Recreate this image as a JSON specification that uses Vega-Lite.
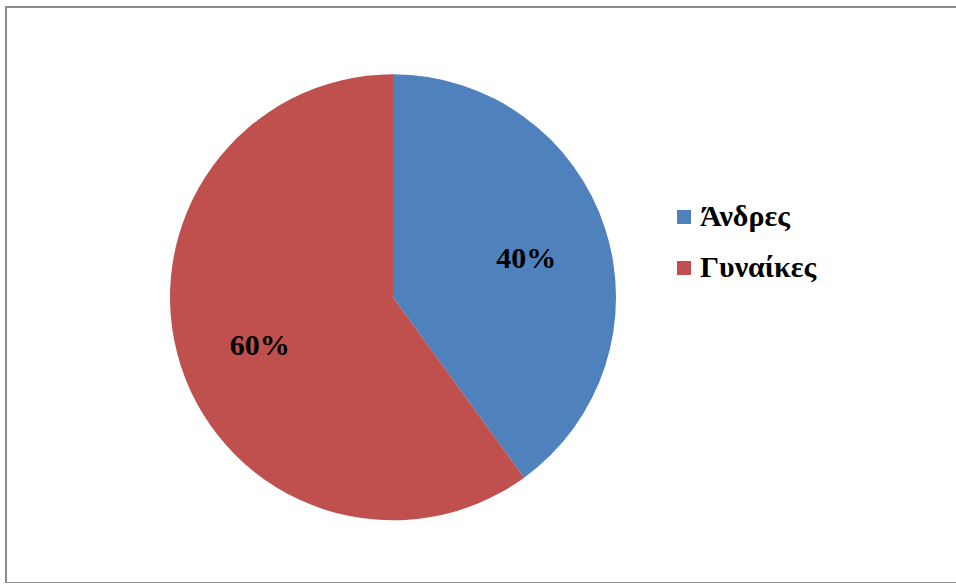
{
  "$schema": "https://vega.github.io/schema/vega-lite/v6.json",
  "width": 962,
  "height": 576,
  "autosize": {"type": "none"},
  "padding": {"left": 6, "top": 7, "right": 0, "bottom": 0},
  "background": "white",
  "config": {
    "view": {"stroke": "#8c8c8c", "strokeWidth": 2}
  },
  "data": {
    "values": [
      {"sex": "Άνδρες", "share": 0.4},
      {"sex": "Γυναίκες", "share": 0.6}
    ]
  },
  "encoding": {
    "theta": {"field": "share", "type": "quantitative", "stack": true},
    "order": {"field": "sex", "type": "ordinal", "sort": "ascending"},
    "x": {"datum": "pie", "type": "nominal", "scale": {"type": "point", "align": 0.4023}, "axis": null},
    "y": {"datum": "pie", "type": "nominal", "scale": {"type": "point", "align": 0.504}, "axis": null}
  },
  "layer": [
    {
      "mark": {"type": "arc", "outerRadius": 223},
      "encoding": {
        "color": {
          "field": "sex",
          "type": "nominal",
          "scale": {"domain": ["Άνδρες", "Γυναίκες"], "range": ["#4f81bd", "#c0504d"]},
          "legend": {
            "title": null,
            "orient": "none",
            "legendX": 663,
            "legendY": 195,
            "padding": 0,
            "symbolType": "square",
            "symbolSize": 196,
            "symbolStrokeWidth": 0,
            "symbolOpacity": 1,
            "labelFont": "Liberation Serif",
            "labelFontWeight": "bold",
            "labelFontSize": 30,
            "labelColor": "#000000",
            "labelOffset": 1,
            "rowPadding": 21,
            "labelLimit": 300
          }
        }
      }
    },
    {
      "mark": {
        "type": "text",
        "radius": 140,
        "dy": 5,
        "font": "Liberation Serif",
        "fontWeight": "bold",
        "fontSize": 30,
        "align": "center",
        "baseline": "middle",
        "color": "#000000"
      },
      "encoding": {
        "text": {"field": "share", "type": "quantitative", "format": ".0%"}
      }
    }
  ]
}
